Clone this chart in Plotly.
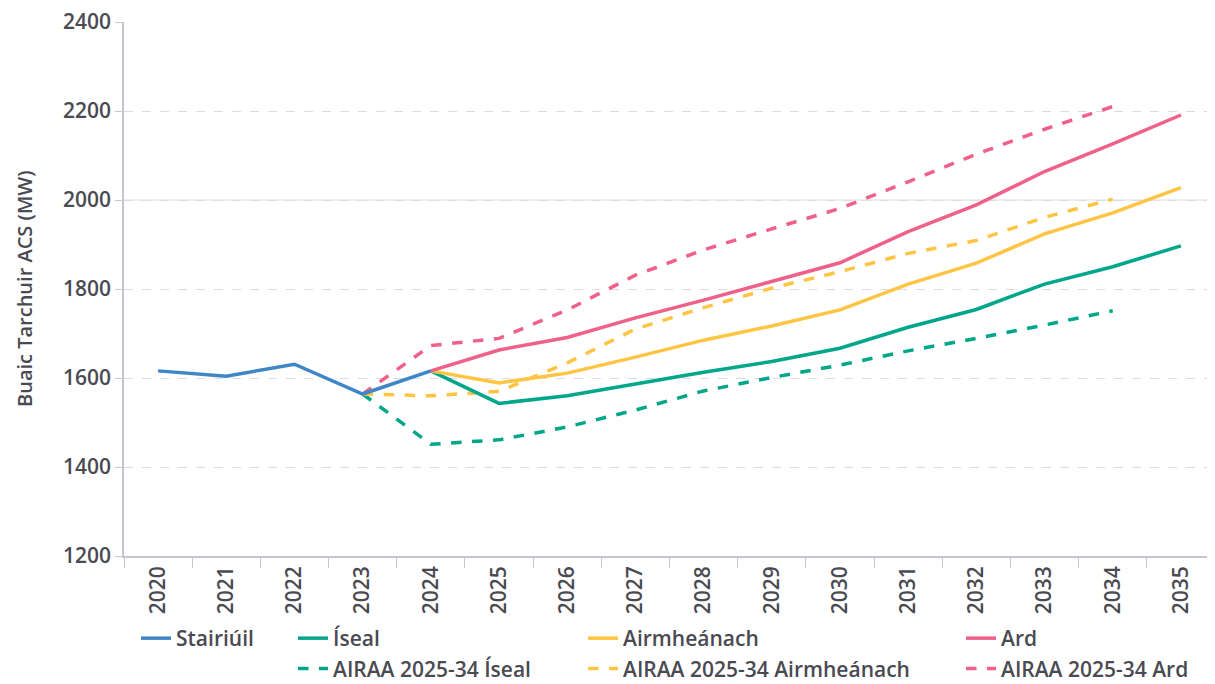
import plotly.graph_objects as go

years = [str(y) for y in range(2020, 2036)]

hist_years = ["2020", "2021", "2022", "2023", "2024"]
hist_vals = [1616, 1604, 1631, 1564, 1616]

proj_years = [str(y) for y in range(2024, 2036)]
low_vals = [1616, 1543, 1560, 1587, 1613, 1637, 1667, 1714, 1754, 1811, 1850, 1897]
mid_vals = [1616, 1589, 1611, 1647, 1685, 1717, 1753, 1811, 1858, 1924, 1971, 2028]
high_vals = [1616, 1663, 1691, 1735, 1775, 1816, 1859, 1929, 1989, 2064, 2126, 2191]

airaa_years = [str(y) for y in range(2023, 2035)]
airaa_low = [1564, 1451, 1461, 1490, 1528, 1571, 1601, 1629, 1661, 1689, 1719, 1751]
airaa_mid = [1564, 1560, 1570, 1634, 1710, 1758, 1802, 1839, 1880, 1909, 1961, 2002]
airaa_high = [1564, 1673, 1689, 1753, 1831, 1888, 1935, 1981, 2041, 2103, 2159, 2210]

names = ["Stairiúil", "Íseal", "Airmheánach", "Ard",
         "AIRAA 2025-34 Íseal", "AIRAA 2025-34 Airmheánach", "AIRAA 2025-34 Ard"]
y_title = "Buaic Tarchuir ACS (MW)"

BLUE = "#3f86c8"
GREEN = "#00a68a"
YELLOW = "#fec443"
PINK = "#ef6189"
TXT = "#4a4a52"
FONT = "Open Sans"

W, H = 1207, 676  # page body has an 8px margin

fig = go.Figure()

def add(x, y, name, color, dash, legend):
    fig.add_trace(go.Scatter(
        x=x, y=y, name=name, mode="lines",
        line=dict(color=color, width=3.5, dash=dash),
        legend=legend, legendgroup=name,
    ))

# draw order: dashed first, then solid, history on top
add(airaa_years, airaa_low, names[4], GREEN, "dash", "legend2")
add(airaa_years, airaa_mid, names[5], YELLOW, "dash", "legend3")
add(airaa_years, airaa_high, names[6], PINK, "dash", "legend4")
add(proj_years, low_vals, names[1], GREEN, "solid", "legend2")
add(proj_years, mid_vals, names[2], YELLOW, "solid", "legend3")
add(proj_years, high_vals, names[3], PINK, "solid", "legend4")
add(hist_years, hist_vals, names[0], BLUE, "solid", "legend")

legfont = dict(family=FONT, size=21, color=TXT, weight=600)
tickfont = dict(family=FONT, size=21, color=TXT, weight=600)

def leg(xpx):
    return dict(
        x=xpx / W, xref="container", xanchor="left",
        y=1 - 610 / H, yref="container", yanchor="top",
        orientation="v", font=legfont, bgcolor="rgba(0,0,0,0)",
        traceorder="reversed", itemwidth=30, tracegroupgap=1,
    )

fig.add_shape(type="line", xref="paper", x0=0, x1=1, yref="y", y0=2000, y1=2000,
              line=dict(color="#dcdce2", width=1), layer="below")

fig.add_annotation(
    text=y_title, xref="paper", yref="paper", x=-100 / 1091, y=0.5,
    xanchor="center", yanchor="middle", textangle=-90, showarrow=False,
    borderpad=0,
    font=dict(family=FONT, size=20, color=TXT, weight=600),
)

fig.update_layout(
    width=W, height=H,
    margin=dict(l=116, r=0, t=14, b=128, autoexpand=False),
    plot_bgcolor="white", paper_bgcolor="white",
    font=dict(family=FONT, color=TXT),
    showlegend=True,
    legend=leg(128),
    legend2=leg(285),
    legend3=leg(575),
    legend4=leg(953),
    xaxis=dict(
        type="category", categoryorder="array", categoryarray=years,
        tickmode="array", tickvals=years, ticktext=years,
        range=[-0.5, 15.5],
        tickangle=-90, tickson="boundaries",
        ticks="outside", ticklen=10, tickcolor="#c5c5cf",
        showline=True, linecolor="#c5c5cf", linewidth=1.5,
        showgrid=False,
        tickfont=tickfont, ticklabeloverflow="allow",
    ),
    yaxis=dict(
        range=[1200, 2400], tickvals=[1200, 1400, 1600, 1800, 2000, 2200, 2400],
        ticks="outside", ticklen=7, tickcolor="#c5c5cf",
        showline=True, linecolor="#c5c5cf", linewidth=1.5,
        showgrid=True, gridcolor="#dcdce2", gridwidth=1, griddash="dash",
        zeroline=False,
        tickfont=tickfont, ticklabeloverflow="allow",
    ),
)

fig.write_html("out.html")
